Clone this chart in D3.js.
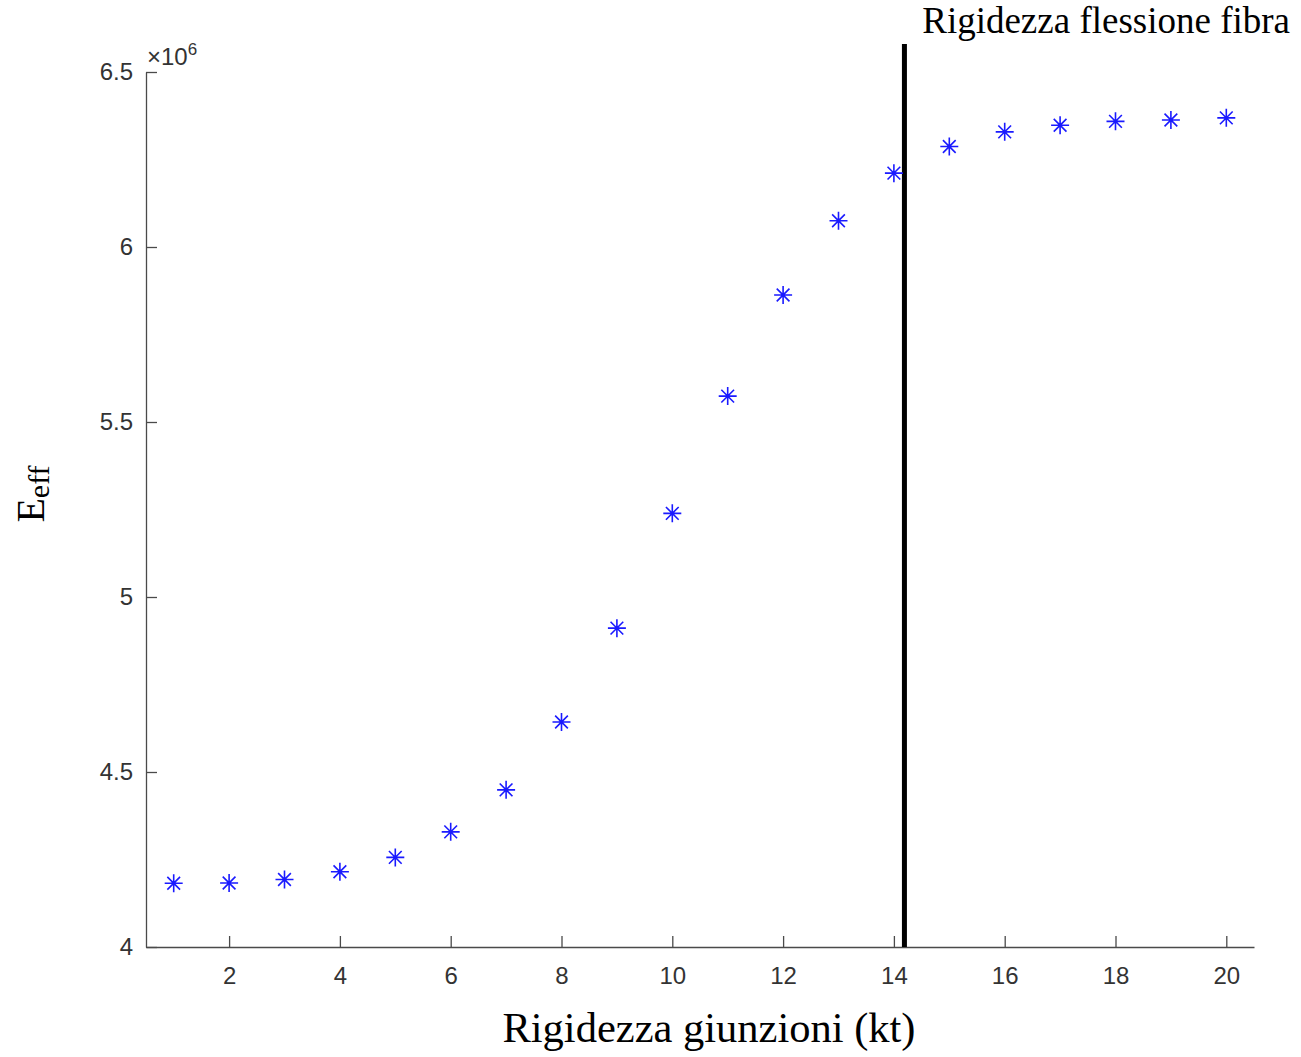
<!DOCTYPE html>
<html lang="en">
<head>
  <meta charset="UTF-8">
  <title>Rigidezza giunzioni</title>
  <script src="https://d3js.org/d3.v7.min.js"></script>
  <style>
    body { margin: 0; background: #fff; }
    .axis path, .axis line { stroke: #4a4a4a; stroke-width: 1.3; }
    .axis text { font-family: "Liberation Sans", Arial, sans-serif; font-size: 24px; fill: #333; }
    .serif { font-family: "Liberation Serif", "Times New Roman", serif; fill: #000; }
    .star { stroke: #1a1aff; stroke-width: 1.6; fill: none; }
  </style>
</head>
<body>
  <div id="chart"></div>
  <script>
    // data
    const kt = [1, 2, 3, 4, 5, 6, 7, 8, 9, 10, 11, 12, 13, 14, 15, 16, 17, 18, 19, 20];
    const eEff = [4.182, 4.183, 4.193, 4.215, 4.256, 4.329, 4.449, 4.643, 4.911, 5.239,
                  5.574, 5.863, 6.075, 6.211, 6.287, 6.329, 6.348, 6.359, 6.363, 6.369]; // x 1e6
    const xTicks = [2, 4, 6, 8, 10, 12, 14, 16, 18, 20];
    const yTicks = [4, 4.5, 5, 5.5, 6, 6.5];
    const fibreLine = 14.19;

    const W = 1301, H = 1057;
    const margin = { top: 72, right: 47, bottom: 110, left: 146 },
          width = W - margin.left - margin.right,
          height = H - margin.top - margin.bottom;

    const svg = d3.select("#chart")
                  .append("svg")
                  .attr("width", W)
                  .attr("height", H);

    const g = svg.append("g")
                 .attr("transform", `translate(${margin.left},${margin.top})`);

    const x = d3.scaleLinear().domain([0.5, 20.5]).range([0, width]);
    const y = d3.scaleLinear().domain([4, 6.5]).range([height, 0]);

    // x axis, ticks pointing inward
    g.append("g")
     .attr("class", "axis")
     .attr("transform", `translate(0,${height})`)
     .call(d3.axisBottom(x).tickValues(xTicks).tickSize(-11).tickSizeOuter(0).tickPadding(20))
     .call(a => a.selectAll("text").attr("dy", "0.71em"));

    // y axis, ticks pointing inward
    g.append("g")
     .attr("class", "axis")
     .call(d3.axisLeft(y).tickValues(yTicks).tickFormat(d3.format("")).tickSize(-11).tickSizeOuter(0).tickPadding(13));

    // exponent label
    const ex = g.append("text")
                .attr("x", 1)
                .attr("y", -7)
                .attr("font-family", "Liberation Sans, Arial, sans-serif")
                .attr("font-size", 24)
                .attr("fill", "#333");
    ex.append("tspan").text("\u00d710");
    ex.append("tspan").attr("font-size", 17).attr("dy", -10).text("6");

    // vertical reference line
    g.append("line")
     .attr("x1", x(fibreLine)).attr("x2", x(fibreLine))
     .attr("y1", -28).attr("y2", height)
     .attr("stroke", "#000")
     .attr("stroke-width", 5);

    svg.append("text")
       .attr("class", "serif")
       .attr("x", 1290)
       .attr("y", 33)
       .attr("text-anchor", "end")
       .attr("font-size", 37)
       .text("Rigidezza flessione fibra");

    // asterisk markers
    const r = 9;
    const starPath = [0, 45, 90, 135].map(a => {
      const dx = r * Math.cos(a * Math.PI / 180), dy = r * Math.sin(a * Math.PI / 180);
      return `M${-dx},${-dy}L${dx},${dy}`;
    }).join("");

    g.selectAll(".star")
     .data(kt)
     .enter()
     .append("path")
     .attr("class", "star")
     .attr("transform", (d, i) => `translate(${x(d)},${y(eEff[i])})`)
     .attr("d", starPath);

    // axis labels
    svg.append("text")
       .attr("class", "serif")
       .attr("x", 709)
       .attr("y", 1042)
       .attr("text-anchor", "middle")
       .attr("font-size", 42.5)
       .text("Rigidezza giunzioni (kt)");

    const yl = svg.append("text")
                  .attr("class", "serif")
                  .attr("transform", "translate(44,494) rotate(-90)")
                  .attr("text-anchor", "middle")
                  .attr("font-size", 40);
    yl.append("tspan").text("E");
    yl.append("tspan").attr("font-size", 30).attr("dy", 5).text("eff");
  </script>
</body>
</html>
